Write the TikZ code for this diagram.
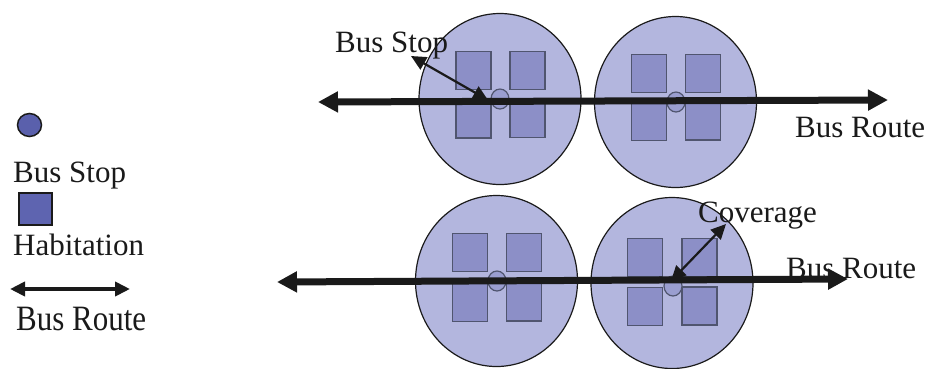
\documentclass[tikz,border=0pt]{standalone}
\usepackage{fontspec}
\setmainfont{Liberation Serif}
\usetikzlibrary{shapes.geometric,arrows.meta}
\definecolor{zonefill}{HTML}{B3B6DE}
\definecolor{housefill}{HTML}{8C8FC7}
\definecolor{houseline}{HTML}{50556F}
\definecolor{stopfill}{HTML}{9A9ED0}
\definecolor{legstop}{HTML}{5A60AC}
\definecolor{leghouse}{HTML}{5E64B0}
\definecolor{ink}{HTML}{1A1A1A}
\tikzset{
  zone/.style={ellipse, draw=ink, line width=1.2pt, fill=zonefill, minimum width=162pt, minimum height=171pt, inner sep=0pt},
  house/.style={rectangle, draw=houseline, line width=1.5pt, fill=housefill, minimum width=35pt, minimum height=38pt, inner sep=0pt},
  stop/.style={ellipse, draw=houseline, line width=1.2pt, fill=stopfill, minimum width=18pt, minimum height=20pt, inner sep=0pt},
  lbl/.style={anchor=base west, inner sep=0pt, font=\rmfamily\fontsize{31}{36}\selectfont, text=ink},
  route/.style={draw=ink, line width=7pt, {Triangle[length=20pt,width=20pt]}-{Triangle[length=20pt,width=20pt]}},
  thinarrow/.style={draw=ink, line width=2.2pt, {Triangle[length=15pt,width=14pt]}-{Triangle[length=15pt,width=14pt]}},
}
\begin{document}
\begin{tikzpicture}[x=1pt,y=-1pt]
\useasboundingbox (0,0) rectangle (929,368);

% zones
\node[zone] (z1) at (500,99) {};
\node[zone] (z2) at (675.5,102) {};
\node[zone] (z3) at (496.5,281) {};
\node[zone] (z4) at (672,283) {};

% houses zone 1
\node[house] (h11) at (473.5,70.5) {};
\node[house] (h12) at (527.5,70.5) {};
\node[house] (h13) at (473.5,119) {};
\node[house] (h14) at (527.5,118.5) {};
% houses zone 2
\node[house] (h21) at (649,73.5) {};
\node[house] (h22) at (703,73.5) {};
\node[house] (h23) at (649,121.5) {};
\node[house] (h24) at (703,121) {};
% houses zone 3
\node[house] (h31) at (470,252.5) {};
\node[house] (h32) at (524,252.5) {};
\node[house] (h33) at (470,302.5) {};
\node[house] (h34) at (524,302) {};
% houses zone 4
\node[house] (h41) at (645,257.5) {};
\node[house] (h42) at (699.5,257.5) {};
\node[house] (h43) at (645,306.5) {};
\node[house] (h44) at (699.5,306) {};

% bus stops
\node[stop] (s1) at (500,99) {};
\node[stop] (s2) at (676,102) {};
\node[stop] (s3) at (497,281) {};
\node[stop] (s4) at (673,286) {};

% routes
\coordinate (r1a) at (318,102);
\coordinate (r1b) at (888,100);
\coordinate (r2a) at (277,282);
\coordinate (r2b) at (848,279);
\draw[route] (r1a) -- (r1b);
\draw[route] (r2a) -- (r2b);

% labels
\node[lbl] (tBusStop) at (335,52) {Bus Stop};
\node[lbl] (tRoute1) at (795,137) {Bus Route};
\node[lbl] (tCov) at (698,222) {Coverage};
\node[lbl] (tRoute2) at (786,278) {Bus Route};

% label arrows
\coordinate (bsA) at (411,56);
\coordinate (bsB) at (488,100);
\draw[thinarrow] (bsA) -- (bsB);
\coordinate (cvA) at (671,281);
\coordinate (cvB) at (726,224);
\draw[thinarrow] (cvA) -- (cvB);

% legend
\node[ellipse, draw=ink, line width=1.5pt, fill=legstop, minimum width=24pt, minimum height=23pt, inner sep=0pt] (lStop) at (29.5,125) {};
\node[lbl] (lStopT) at (13,182) {Bus Stop};
\node[rectangle, draw=ink, line width=1.5pt, fill=leghouse, minimum width=33pt, minimum height=32pt, inner sep=0pt] (lHouse) at (35.5,209) {};
\node[lbl] (lHouseT) at (13,255) {Habitation};
\coordinate (lrA) at (10,289);
\coordinate (lrB) at (130,289);
\draw[draw=ink, line width=4pt, {Triangle[length=15pt,width=14pt]}-{Triangle[length=15pt,width=14pt]}] (lrA) -- (lrB);
\node[lbl] (lRouteT) at (16,330) {\scalebox{1}[1.15]{Bus Route}};
\end{tikzpicture}
\end{document}
